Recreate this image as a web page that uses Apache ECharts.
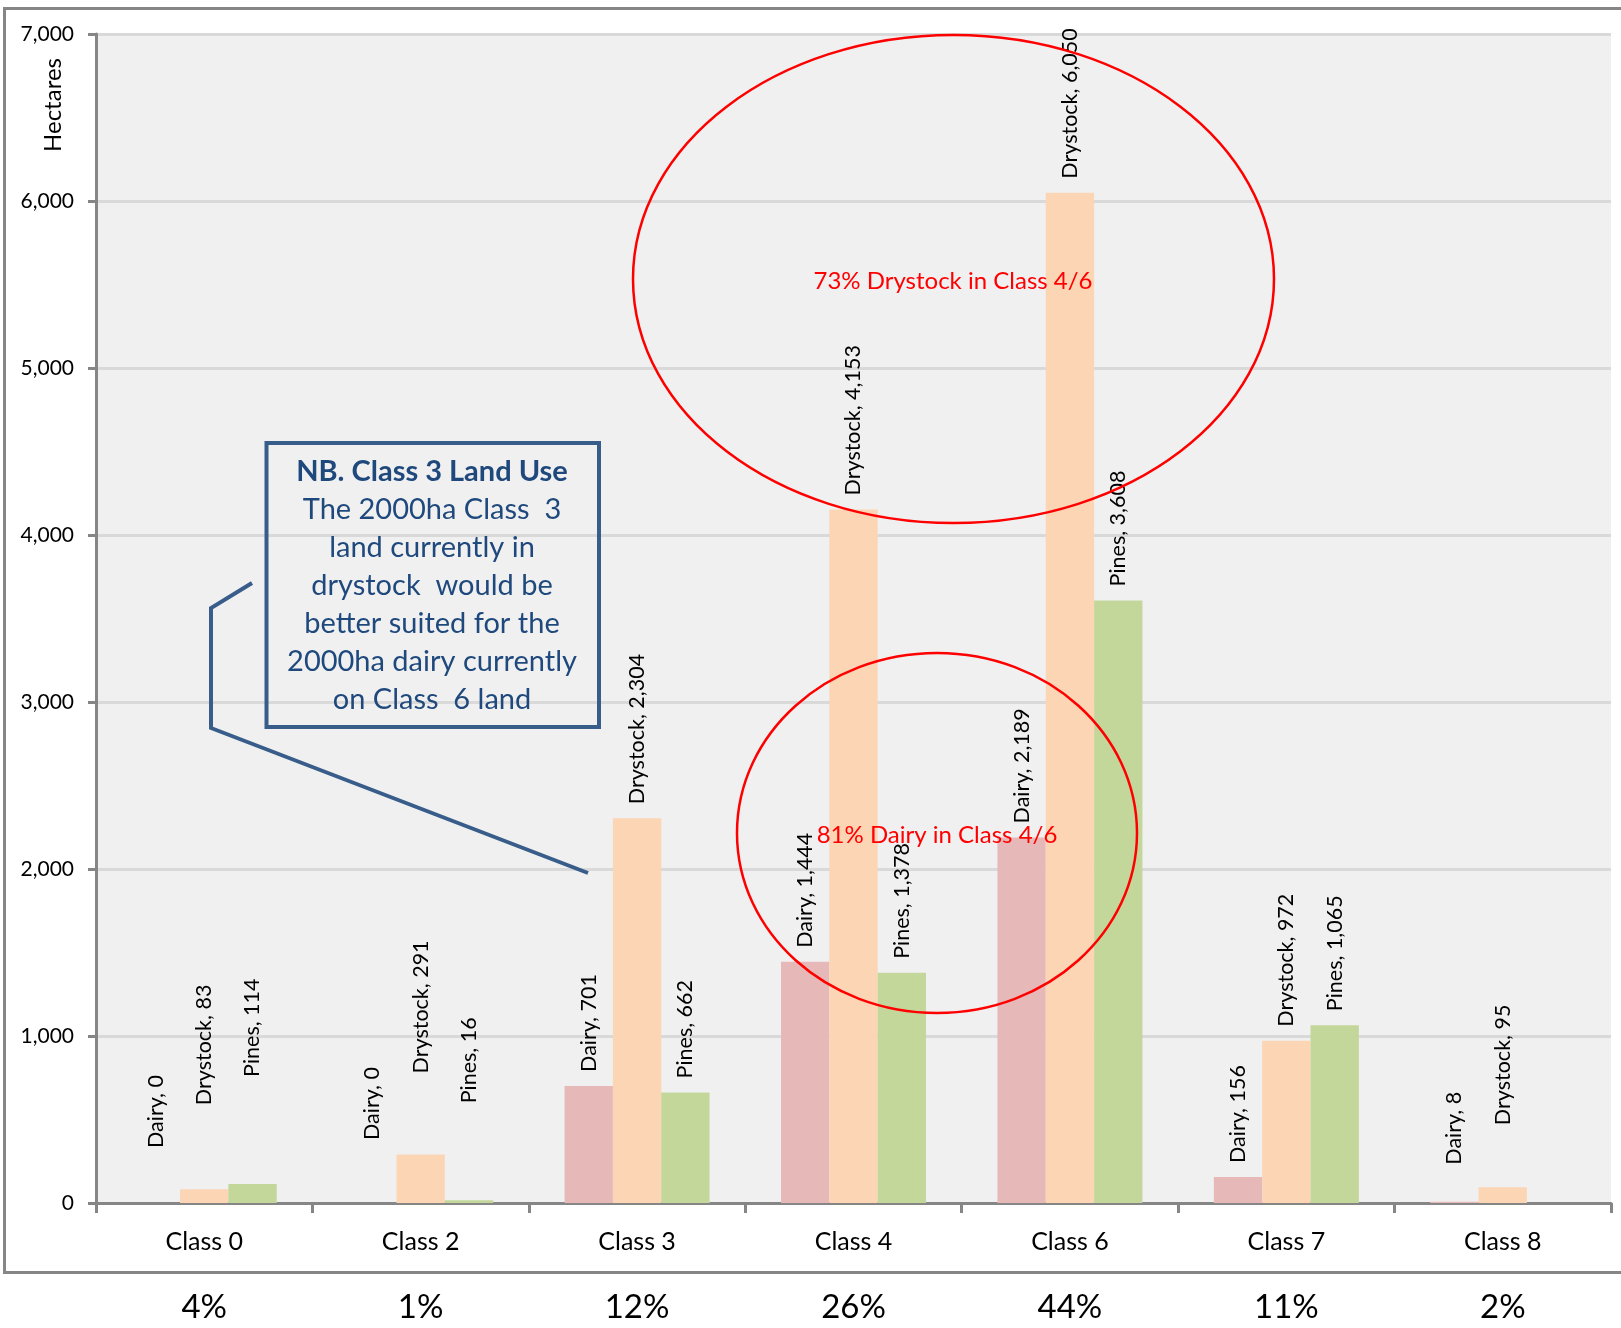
<!DOCTYPE html>
<html>
<head>
<meta charset="utf-8">
<script src="https://cdn.jsdelivr.net/npm/echarts@6/dist/echarts.min.js"></script>
<style>
  html, body { margin: 0; padding: 0; background: #ffffff; }
  #chart { width: 1621px; height: 1328px; }
</style>
</head>
<body>
<div id="chart"></div>
<script>
// ---- data ----
const categories = ['Class 0', 'Class 2', 'Class 3', 'Class 4', 'Class 6', 'Class 7', 'Class 8'];
const percentLabels = ['4%', '1%', '12%', '26%', '44%', '11%', '2%'];
const dairy    = [0, 0, 701, 1444, 2189, 156, 8];
const drystock = [83, 291, 2304, 4153, 6050, 972, 95];
const pines    = [114, 16, 662, 1378, 3608, 1065, null];
const yTicks = [0, 1000, 2000, 3000, 4000, 5000, 6000, 7000];
const calloutLines = [
  'NB. Class 3 Land Use',
  'The 2000ha Class  3',
  'land currently in',
  'drystock  would be',
  'better suited for the',
  '2000ha dairy currently',
  'on Class  6 land'
];
const noteDrystock = '73% Drystock in Class 4/6';
const noteDairy = '81% Dairy in Class 4/6';

// ---- style / layout (not data) ----
const FONT = 'Lato, "Open Sans", sans-serif';
const AXIS_GRAY = '#868686';
const DEFAULT_LABEL_GAP = 14;
// manually nudged labels (pixel distance above bar top)
const labelGap = {
  'Dairy|Class 0': 55, 'Drystock|Class 0': 84, 'Pines|Class 0': 107,
  'Dairy|Class 2': 63, 'Drystock|Class 2': 81, 'Pines|Class 2': 97,
  'Dairy|Class 8': 37, 'Drystock|Class 8': 62
};

function fmt(v) { return Number(v).toLocaleString('en-US'); }

function buildData(name, values) {
  return values.map((v, i) => {
    const key = name + '|' + categories[i];
    const item = { value: v };
    if (labelGap[key] !== undefined) item.label = { distance: labelGap[key] };
    return item;
  });
}

function makeSeries(name, values, color) {
  return {
    name: name,
    type: 'bar',
    data: buildData(name, values),
    barGap: '0%',
    barCategoryGap: '33%',
    itemStyle: { color: color },
    label: {
      show: true,
      position: 'top',
      rotate: 90,
      align: 'left',
      verticalAlign: 'middle',
      distance: DEFAULT_LABEL_GAP,
      fontFamily: FONT,
      fontSize: 21.5,
      color: '#000',
      formatter: p => p.seriesName + ', ' + fmt(p.value)
    },
    emphasis: { disabled: true },
    animation: false
  };
}

const chart = echarts.init(document.getElementById('chart'), null, { renderer: 'canvas' });

const calloutGraphics = calloutLines.map((t, i) => ({
  type: 'text',
  z: 100,
  style: {
    x: 432, y: 472 + i * 38,
    text: t,
    align: 'center', verticalAlign: 'middle',
    fontFamily: FONT,
    fontSize: 29,
    fontWeight: i === 0 ? 'bold' : 'normal',
    fill: '#1F497D'
  }
}));

const option = {
  backgroundColor: '#ffffff',
  animation: false,
  grid: {
    left: 96, top: 34, right: 10, bottom: 125,
    show: true, backgroundColor: '#F0F0F0', borderWidth: 0
  },
  xAxis: [
    {
      type: 'category',
      data: categories,
      axisLine: { show: true, lineStyle: { color: AXIS_GRAY, width: 3 } },
      axisTick: { show: true, length: 10, lineStyle: { color: AXIS_GRAY, width: 3 } },
      axisLabel: { fontFamily: FONT, fontSize: 25, color: '#000', margin: 26 },
      splitLine: { show: false }
    },
    {
      type: 'category',
      data: percentLabels,
      position: 'bottom',
      offset: 0,
      axisLine: { show: false },
      axisTick: { show: false },
      axisLabel: { fontFamily: FONT, fontSize: 33, color: '#000', margin: 88 },
      splitLine: { show: false }
    }
  ],
  yAxis: {
    type: 'value',
    min: yTicks[0],
    max: yTicks[yTicks.length - 1],
    interval: 1000,
    axisLine: { show: true, lineStyle: { color: AXIS_GRAY, width: 3 } },
    axisTick: { show: true, length: 8, lineStyle: { color: AXIS_GRAY, width: 3 } },
    axisLabel: { fontFamily: FONT, fontSize: 21, color: '#000', margin: 22, formatter: v => fmt(v) },
    splitLine: { show: true, lineStyle: { color: '#D9D9D9', width: 3 } }
  },
  series: [
    makeSeries('Dairy', dairy, '#E6B9B8'),
    makeSeries('Drystock', drystock, '#FCD5B5'),
    makeSeries('Pines', pines, '#C4D79B')
  ],
  graphic: [
    {
      type: 'rect', z: 0, silent: true,
      shape: { x: 4.5, y: 8.5, width: 1640, height: 1264 },
      style: { fill: 'none', stroke: AXIS_GRAY, lineWidth: 3 }
    },
    {
      type: 'text', z: 100,
      x: 53, y: 105, rotation: Math.PI / 2,
      style: { x: 0, y: 0, text: 'Hectares', align: 'center', verticalAlign: 'middle',
               fontFamily: FONT, fontSize: 24, fill: '#000' }
    },
    {
      type: 'ellipse', z: 100, silent: true,
      shape: { cx: 953.5, cy: 279, rx: 320.5, ry: 244 },
      style: { fill: 'none', stroke: '#FF0000', lineWidth: 2.5 }
    },
    {
      type: 'text', z: 100,
      style: { x: 953, y: 281, text: noteDrystock, align: 'center', verticalAlign: 'middle',
               fontFamily: FONT, fontSize: 24, fill: '#FF0000' }
    },
    {
      type: 'ellipse', z: 100, silent: true,
      shape: { cx: 937, cy: 833, rx: 200, ry: 180 },
      style: { fill: 'none', stroke: '#FF0000', lineWidth: 2.5 }
    },
    {
      type: 'text', z: 100,
      style: { x: 937, y: 835, text: noteDairy, align: 'center', verticalAlign: 'middle',
               fontFamily: FONT, fontSize: 24, fill: '#FF0000' }
    },
    {
      type: 'rect', z: 100, silent: true,
      shape: { x: 266.5, y: 443, width: 332.5, height: 284 },
      style: { fill: 'none', stroke: '#385D8A', lineWidth: 4 }
    },
    {
      type: 'polyline', z: 100, silent: true,
      shape: { points: [[252, 583], [211, 608], [211, 728], [588, 873]] },
      style: { fill: 'none', stroke: '#385D8A', lineWidth: 4 }
    }
  ].concat(calloutGraphics)
};

chart.setOption(option);
</script>
</body>
</html>
